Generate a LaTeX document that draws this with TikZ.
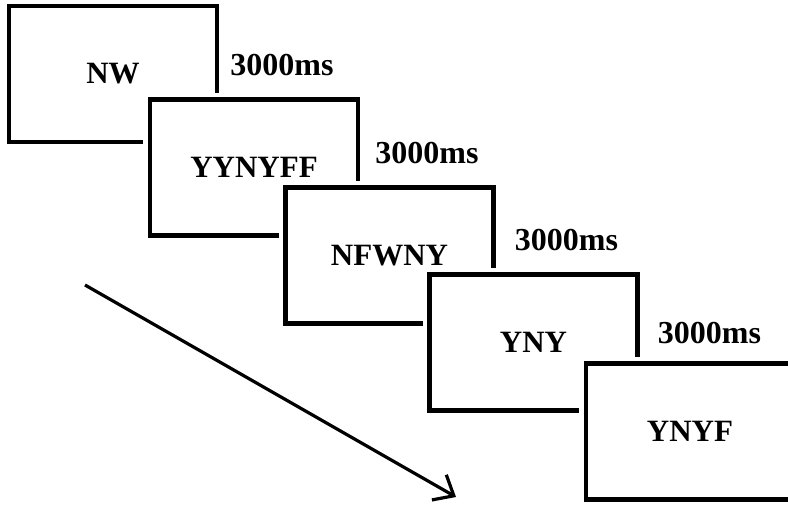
\documentclass[tikz,border=0pt]{standalone}
\usepackage{fontspec}
\setmainfont{Liberation Serif}
\usepackage{tikz}
\usetikzlibrary{positioning, arrows.meta, calc}

\begin{document}
\begin{tikzpicture}[x=1pt, y=-1pt]
        \tikzstyle{screen} = [rectangle, draw, line width=4.5pt, fill=white, minimum width=208pt, minimum height=136pt, font=\fontsize{31}{36}\selectfont\bfseries, preaction={draw=white, line width=14pt}]
        \tikzstyle{delay} = [anchor=west, inner sep=0pt, font=\fontsize{32}{36}\selectfont\bfseries]
        \tikzstyle{arrow} = [line width=3.2pt, -{Straight Barb[length=17pt, width=29pt, line width=3.2pt]}]

        \clip (0,0) rectangle (788,504);

        \node [screen] (s1) at (113,74) {NW};
        \node [screen] (s2) at (254,167.5) {YYNYFF};
        \node [screen] (s3) at (389.5,255.5) {NFWNY};
        \node [screen] (s4) at (533.5,342.5) {YNY};
        \node [screen] (s5) at (690,431.5) {YNYF};

        \node [delay] (d1) at ($(s1.north east)+(11,61)$) {3000ms};
        \node [delay] (d2) at ($(s2.north east)+(15,56)$) {3000ms};
        \node [delay] (d3) at ($(s3.north east)+(19,55)$) {3000ms};
        \node [delay] (d4) at ($(s4.north east)+(18,61)$) {3000ms};

        \coordinate (a1) at (85,285);
        \coordinate (a2) at (456,497);
        \draw [arrow] (a1) -- (a2);
    \end{tikzpicture}
\end{document}
